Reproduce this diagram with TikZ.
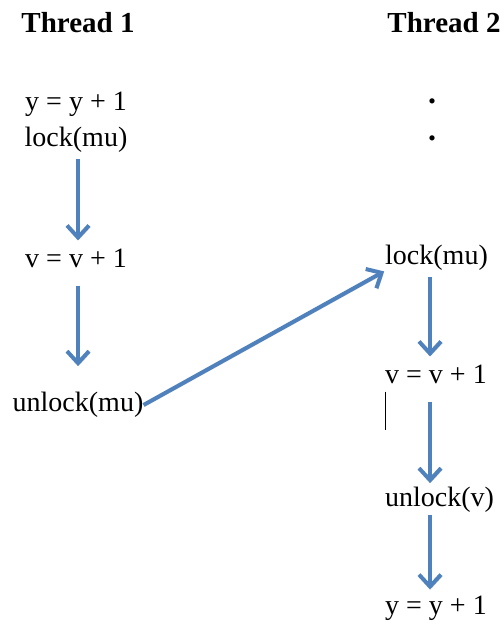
\documentclass[tikz,border=0pt]{standalone}
\usepackage{fontspec}
\setmainfont{Liberation Serif}
\usetikzlibrary{arrows.meta}
\definecolor{flowblue}{RGB}{79, 129, 189}

\begin{document}
\begin{tikzpicture}[x=1pt, y=-1pt,
    code/.style={font=\fontsize{28}{30}\selectfont, inner sep=0pt},
    head/.style={font=\fontsize{29}{31}\selectfont\bfseries, inner sep=0pt},
    flow/.style={line width=4pt, flowblue, -{Straight Barb[length=12pt, width=22pt, line width=4pt]},
      preaction={draw=black!20, transform canvas={shift={(1.5pt,-1.5pt)}}}}]
    \useasboundingbox (0,0) rectangle (503,626);
    % thread 1
    \node[head] (head1) at (78,23) {Thread 1};
    \node[code] (y1) at (76,104) {y = y + 1};
    \node[code] (lk1) at (76,140) {lock(mu)};
    \node[code] (v1) at (76,258) {v = v + 1};
    \node[code] (ulk1) at (78,405) {unlock(mu)};
    % thread 2
    \node[head] (head2) at (444,23) {Thread 2};
    \node[code, font=\fontsize{32}{34}\selectfont\bfseries] (dot1) at (432,101) {.};
    \node[code, font=\fontsize{32}{34}\selectfont\bfseries] (dot2) at (432,138) {.};
    \node[code, anchor=west] (lk2) at (385,258) {lock(mu)};
    \node[code, anchor=west] (v2) at (385,374) {v = v + 1};
    \node[code, anchor=west] (ulk2) at (385,500) {unlock(v)};
    \node[code, anchor=west] (y2) at (385,608) {y = y + 1};
    \coordinate (col1) at (78,0);
    \coordinate (col2) at (430,0);
    % arrows
    \draw[flow, shorten <=6pt, shorten >=8pt] (lk1.south -| col1) -- (v1.north -| col1);
    \draw[flow, shorten <=18pt, shorten >=26pt] (v1.south -| col1) -- (ulk1.north -| col1);
    \draw[flow, shorten <=0pt, shorten >=1pt] (ulk1.east) -- (lk2.south west);
    \draw[flow, shorten <=6pt, shorten >=8pt] (lk2.south -| col2) -- (v2.north -| col2);
    \draw[flow, shorten <=18pt, shorten >=4pt] (v2.south -| col2) -- (ulk2.north -| col2);
    \draw[flow, shorten <=2pt, shorten >=6pt] (ulk2.south -| col2) -- (y2.north -| col2);
    % cursor mark
    \draw[line width=0.8pt] (v2.south west) ++(0,8) -- ++(0,38);
\end{tikzpicture}
\end{document}
